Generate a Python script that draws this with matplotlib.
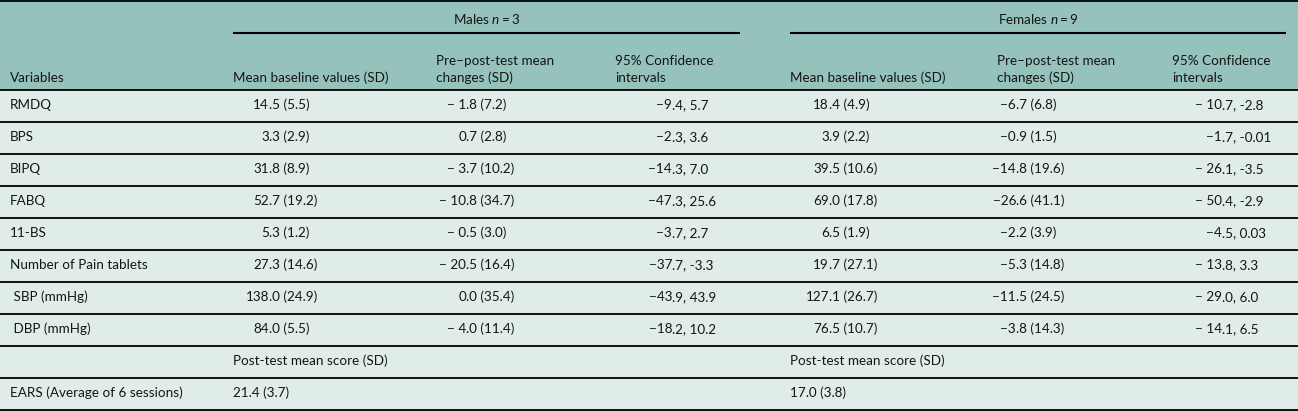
import matplotlib
matplotlib.use("Agg")
import matplotlib.pyplot as plt
from matplotlib.patches import Rectangle

# --- data ---
variables = ["RMDQ", "BPS", "BIPQ", "FABQ", "11-BS", "Number of Pain tablets",
             " SBP (mmHg)", " DBP (mmHg)"]
m_base = ["14.5 (5.5)", "3.3 (2.9)", "31.8 (8.9)", "52.7 (19.2)", "5.3 (1.2)",
          "27.3 (14.6)", "138.0 (24.9)", "84.0 (5.5)"]
m_change = ["\u2212 1.8 (7.2)", "0.7 (2.8)", "\u2212 3.7 (10.2)", "\u2212 10.8 (34.7)",
            "\u2212 0.5 (3.0)", "\u2212 20.5 (16.4)", "0.0 (35.4)", "\u2212 4.0 (11.4)"]
m_ci = ["\u22129.4, 5.7", "\u22122.3, 3.6", "\u221214.3, 7.0", "\u221247.3, 25.6",
        "\u22123.7, 2.7", "\u221237.7, -3.3", "\u221243.9, 43.9", "\u221218.2, 10.2"]
f_base = ["18.4 (4.9)", "3.9 (2.2)", "39.5 (10.6)", "69.0 (17.8)", "6.5 (1.9)",
          "19.7 (27.1)", "127.1 (26.7)", "76.5 (10.7)"]
f_change = ["\u22126.7 (6.8)", "\u22120.9 (1.5)", "\u221214.8 (19.6)", "\u221226.6 (41.1)",
            "\u22122.2 (3.9)", "\u22125.3 (14.8)", "\u221211.5 (24.5)", "\u22123.8 (14.3)"]
f_ci = ["\u2212 10.7, -2.8", "\u22121.7, -0.01", "\u2212 26.1, -3.5", "\u2212 50.4, -2.9",
        "\u22124.5, 0.03", "\u2212 13.8, 3.3", "\u2212 29.0, 6.0", "\u2212 14.1, 6.5"]
ears_label = "EARS (Average of 6 sessions)"
ears_m = "21.4 (3.7)"
ears_f = "17.0 (3.8)"
group_titles = ["Males $n = 3$", "Females $n = 9$"]
col_heads = ["Mean baseline values (SD)", "Pre\u2013post-test mean\nchanges (SD)",
             "95% Confidence\nintervals"]
post_head = "Post-test mean score (SD)"

# --- layout (pixels) ---
W, H = 1298, 411
head_bg = "#96c2bc"
body_bg = "#e0ecea"
txt = "#151515"
fs = 9.7
plt.rcParams['font.family'] = ['Lato', 'DejaVu Sans']
plt.rcParams['mathtext.fontset'] = 'custom'
plt.rcParams['mathtext.it'] = 'Lato:italic'
plt.rcParams['mathtext.rm'] = 'Lato'

row_lines = [90 + 32.0 * k for k in range(11)]
group_x = [(233, 740), (790, 1286)]
head_x = [[233, 436, 615], [790, 997, 1172]]
dec_x = [[269, 466, 672], [829, 1016, 1222]]

fig = plt.figure(figsize=(W / 100, H / 100), dpi=100)
ax = fig.add_axes([0, 0, 1, 1])
ax.set_xlim(0, W)
ax.set_ylim(H, 0)
ax.axis('off')

ax.add_patch(Rectangle((0, 0), W, 90, color=head_bg, zorder=0))
ax.add_patch(Rectangle((0, 90), W, H - 90, color=body_bg, zorder=0))

for y in [1] + row_lines:
    ax.plot([0, W], [y, y], color='black', lw=1.3, solid_capstyle='butt')

# group headers
for (x0, x1), title in zip(group_x, group_titles):
    ax.text((x0 + x1) / 2, 19, title, ha='center', va='center', fontsize=fs, color=txt)
    ax.plot([x0, x1], [33, 33], color='black', lw=1.5, solid_capstyle='butt')

ax.text(10, 78, "Variables", ha='left', va='center', fontsize=fs, color=txt)
for g in range(2):
    for c, head in enumerate(col_heads):
        lines = head.split("\n")
        for j, line in enumerate(reversed(lines)):
            ax.text(head_x[g][c], 78 - 17 * j, line, ha='left', va='center',
                    fontsize=fs, color=txt)


def dec_text(x, y, s):
    # align on first decimal point
    i = s.index('.')
    ax.text(x, y, s[:i], ha='right', va='center', fontsize=fs, color=txt)
    ax.text(x, y, s[i:], ha='left', va='center', fontsize=fs, color=txt)


cols = [[m_base, m_change, m_ci], [f_base, f_change, f_ci]]
for r, var in enumerate(variables):
    yc = (row_lines[r] + row_lines[r + 1]) / 2 - 1
    ax.text(10, yc, var, ha='left', va='center', fontsize=fs, color=txt)
    for g in range(2):
        for c in range(3):
            dec_text(dec_x[g][c], yc, cols[g][c][r])

n = len(variables)
yc = (row_lines[n] + row_lines[n + 1]) / 2 - 1
for g in range(2):
    ax.text(head_x[g][0], yc, post_head, ha='left', va='center', fontsize=fs, color=txt)
yc = (row_lines[n + 1] + row_lines[n + 2]) / 2 - 1
ax.text(10, yc, ears_label, ha='left', va='center', fontsize=fs, color=txt)
ax.text(head_x[0][0], yc, ears_m, ha='left', va='center', fontsize=fs, color=txt)
ax.text(head_x[1][0], yc, ears_f, ha='left', va='center', fontsize=fs, color=txt)

fig.savefig("out.png", dpi=100)
